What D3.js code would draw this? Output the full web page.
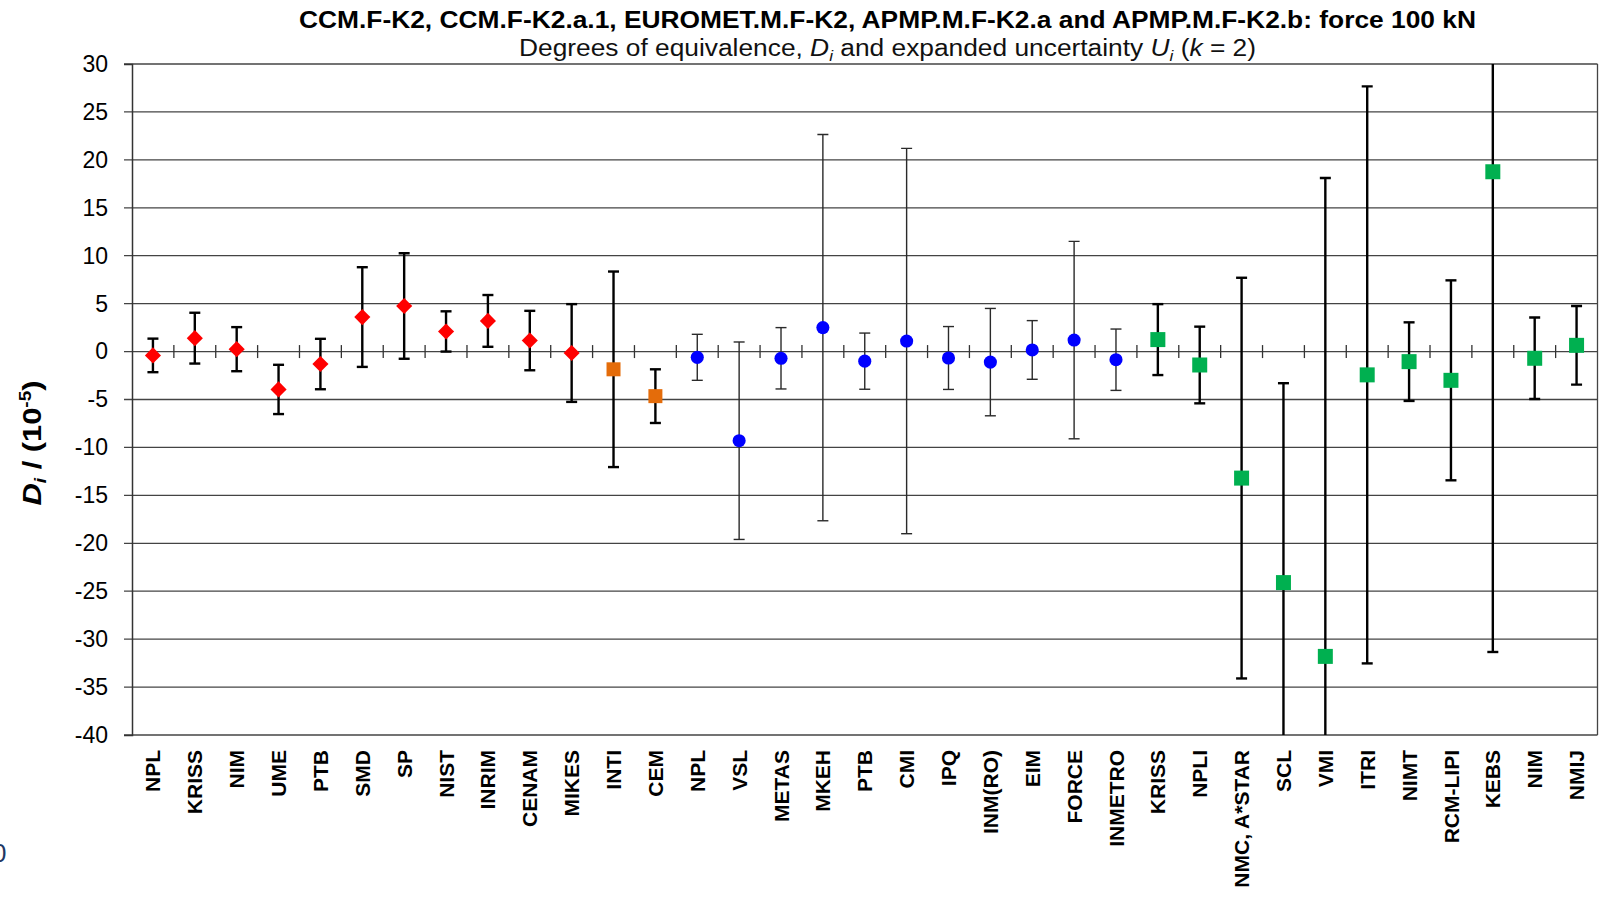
<!DOCTYPE html>
<html>
<head>
<meta charset="utf-8">
<script src="https://cdn.jsdelivr.net/npm/d3@7"></script>
<style>
  body { margin: 0; background: #fff; }
  svg { display: block; font-family: "Liberation Sans", Arial, sans-serif; }
</style>
</head>
<body>
<div class="chart"></div>
<script>
// participants, in the order they appear on the x axis
var labels = ["NPL", "KRISS", "NIM", "UME", "PTB", "SMD", "SP", "NIST", "INRIM", "CENAM", "MIKES",
    "INTI", "CEM",
    "NPL", "VSL", "METAS", "MKEH", "PTB", "CMI", "IPQ", "INM(RO)", "EIM", "FORCE", "INMETRO",
    "KRISS", "NPLI", "NMC, A*STAR", "SCL", "VMI", "ITRI", "NIMT", "RCM-LIPI", "KEBS", "NIM", "NMIJ"];

// degrees of equivalence D_i (10^-5)
var di = [-0.4, 1.4, 0.25, -3.95, -1.3, 3.6, 4.75, 2.1, 3.2, 1.15, -0.15,
    -1.85, -4.65,
    -0.6, -9.3, -0.7, 2.5, -1.0, 1.1, -0.67, -1.1, 0.17, 1.2, -0.85,
    1.25, -1.4, -13.2, -24.1, -31.8, -2.43, -1.05, -3.0, 18.76, -0.7, 0.65];

// expanded uncertainty U_i (k = 2)
var ui = [1.75, 2.65, 2.3, 2.57, 2.63, 5.2, 5.5, 2.1, 2.7, 3.1, 5.1,
    10.2, 2.8,
    2.4, 10.3, 3.2, 20.15, 2.93, 20.1, 3.28, 5.6, 3.06, 10.3, 3.2,
    3.7, 4.0, 20.9, 20.8, 49.9, 30.1, 4.1, 10.43, 50.1, 4.25, 4.1];

// comparison each participant belongs to
var comparison = ["K2", "K2", "K2", "K2", "K2", "K2", "K2", "K2", "K2", "K2", "K2",
    "K2a1", "K2a1",
    "EUROMET", "EUROMET", "EUROMET", "EUROMET", "EUROMET", "EUROMET", "EUROMET", "EUROMET", "EUROMET", "EUROMET", "EUROMET",
    "APMP", "APMP", "APMP", "APMP", "APMP", "APMP", "APMP", "APMP", "APMP", "APMP", "APMP"];

var yTicks = [30, 25, 20, 15, 10, 5, 0, -5, -10, -15, -20, -25, -30, -35, -40];

var style = {
    K2:       {color: "#ff0000", shape: "diamond", size: 130, bar: "#000", barW: 2.4},
    K2a1:     {color: "#e46c0a", shape: "square",  size: 196, bar: "#000", barW: 2.4},
    EUROMET:  {color: "#0000ff", shape: "circle",  size: 135, bar: "#2a2a2a", barW: 1.4},
    APMP:     {color: "#00b050", shape: "square",  size: 225, bar: "#000", barW: 2.4}
};

var W = 1599, H = 898;
var margin = {top: 64, right: 1.5, bottom: 163, left: 132};
var plotL = margin.left, plotR = W - margin.right,
    plotT = margin.top, plotB = H - margin.bottom;

var svg = d3.select(".chart").append("svg")
    .attr("width", W)
    .attr("height", H);

var x = d3.scaleBand().domain(d3.range(labels.length)).range([plotL, plotR]);
var y = d3.scaleLinear().domain([-40, 30]).range([plotB, plotT]);

// horizontal grid lines + y ticks
svg.append("g").selectAll("line")
    .data(yTicks)
    .enter()
    .append("line")
    .attr("x1", plotL - 8)
    .attr("x2", plotR)
    .attr("y1", d => y(d))
    .attr("y2", d => y(d))
    .attr("stroke", "#444")
    .attr("stroke-width", 1.3);

// y axis
var yAxis = svg.append("g")
    .attr("transform", "translate(" + plotL + ",0)")
    .call(d3.axisLeft(y).tickValues(yTicks).tickSize(8).tickPadding(16).tickFormat(d => String(d)));
yAxis.select(".domain").attr("stroke", "#333").attr("stroke-width", 1.5);
yAxis.selectAll(".tick line").remove();
yAxis.selectAll("text")
    .attr("font-size", 23)
    .attr("fill", "#000")
    .attr("font-family", "Liberation Sans, Arial, sans-serif");

// right border
svg.append("line")
    .attr("x1", plotR).attr("x2", plotR)
    .attr("y1", plotT).attr("y2", plotB)
    .attr("stroke", "#444").attr("stroke-width", 1.3);

// category ticks on the zero line
svg.append("g").selectAll("line")
    .data(d3.range(1, labels.length))
    .enter()
    .append("line")
    .attr("x1", d => x(d))
    .attr("x2", d => x(d))
    .attr("y1", y(0) - 6.5)
    .attr("y2", y(0) + 6.5)
    .attr("stroke", "#333")
    .attr("stroke-width", 1.3);

// x labels
svg.append("g").selectAll("text")
    .data(labels)
    .enter()
    .append("text")
    .attr("transform", (d, i) => "translate(" + (x(i) + x.bandwidth() / 2) + "," + (plotB + 15) + ") rotate(-90)")
    .attr("text-anchor", "end")
    .attr("dy", "0.36em")
    .attr("font-size", 21)
    .attr("font-weight", "bold")
    .text(d => d);

// clip for the error bars
svg.append("clipPath").attr("id", "plot")
    .append("rect")
    .attr("x", plotL).attr("y", plotT)
    .attr("width", plotR - plotL).attr("height", plotB - plotT);

var pts = labels.map((d, i) => ({i: i, v: di[i], u: ui[i], s: style[comparison[i]]}));

var bars = svg.append("g").attr("clip-path", "url(#plot)");
var cx = d => x(d.i) + x.bandwidth() / 2;

bars.selectAll("line.stem")
    .data(pts)
    .enter()
    .append("line")
    .attr("class", "stem")
    .attr("x1", cx).attr("x2", cx)
    .attr("y1", d => y(d.v + d.u))
    .attr("y2", d => y(d.v - d.u))
    .attr("stroke", d => d.s.bar)
    .attr("stroke-width", d => d.s.barW);

[1, -1].forEach(function (sign) {
    bars.selectAll("line.cap" + (sign > 0 ? "up" : "dn"))
        .data(pts)
        .enter()
        .append("line")
        .attr("class", "cap" + (sign > 0 ? "up" : "dn"))
        .attr("x1", d => cx(d) - 5.5)
        .attr("x2", d => cx(d) + 5.5)
        .attr("y1", d => y(d.v + sign * d.u))
        .attr("y2", d => y(d.v + sign * d.u))
        .attr("stroke", d => d.s.bar)
        .attr("stroke-width", d => d.s.barW);
});

// markers
var shapes = {circle: d3.symbolCircle, diamond: d3.symbolSquare, square: d3.symbolSquare};
svg.append("g").selectAll("path")
    .data(pts)
    .enter()
    .append("path")
    .attr("transform", d => "translate(" + cx(d) + "," + y(d.v) + ")" + (d.s.shape === "diamond" ? " rotate(45)" : ""))
    .attr("d", d => d3.symbol(shapes[d.s.shape], d.s.size)())
    .attr("fill", d => d.s.color);

// titles
svg.append("text")
    .attr("x", 887.5)
    .attr("y", 27.5)
    .attr("text-anchor", "middle")
    .attr("font-size", 24)
    .attr("font-weight", "bold")
    .attr("textLength", 1177)
    .attr("lengthAdjust", "spacingAndGlyphs")
    .text("CCM.F-K2, CCM.F-K2.a.1, EUROMET.M.F-K2, APMP.M.F-K2.a and APMP.M.F-K2.b: force 100 kN");

var sub = svg.append("text")
    .attr("x", 887.5)
    .attr("y", 56)
    .attr("text-anchor", "middle")
    .attr("font-size", 23)
    .attr("textLength", 737)
    .attr("lengthAdjust", "spacingAndGlyphs")
    .attr("fill", "#111");
sub.append("tspan").text("Degrees of equivalence, ");
sub.append("tspan").attr("font-style", "italic").text("D");
sub.append("tspan").attr("font-style", "italic").attr("font-size", 15).attr("dy", 5).text("i");
sub.append("tspan").attr("dy", -5).text(" and expanded uncertainty ");
sub.append("tspan").attr("font-style", "italic").text("U");
sub.append("tspan").attr("font-style", "italic").attr("font-size", 15).attr("dy", 5).text("i");
sub.append("tspan").attr("dy", -5).text(" (");
sub.append("tspan").attr("font-style", "italic").text("k");
sub.append("tspan").text(" = 2)");

// y axis title
var yt = svg.append("text")
    .attr("transform", "translate(41,443) rotate(-90)")
    .attr("text-anchor", "middle")
    .attr("font-size", 26)
    .attr("font-weight", "bold")
    .attr("textLength", 125)
    .attr("lengthAdjust", "spacingAndGlyphs");
yt.append("tspan").attr("font-style", "italic").text("D");
yt.append("tspan").attr("font-style", "italic").attr("font-size", 16).attr("dy", 5).text("i");
yt.append("tspan").attr("dy", -5).text(" / (10");
yt.append("tspan").attr("font-size", 16).attr("dy", -10).text("-5");
yt.append("tspan").attr("dy", 10).text(")");

// stray page character at the lower left edge
svg.append("text")
    .attr("x", -8)
    .attr("y", 862)
    .attr("font-size", 26)
    .attr("fill", "#1f3864")
    .text("0");
</script>
</body>
</html>
